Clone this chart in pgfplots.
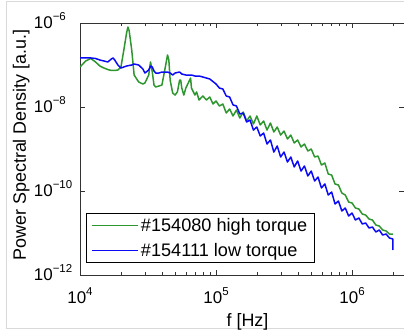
\documentclass[border=0pt]{standalone}
\usepackage{fontspec}
\setmainfont{Liberation Sans}
\usepackage{pgfplots}
\usepackage{pgfplotstable}
\pgfplotsset{compat=1.18}
\definecolor{mgreen}{RGB}{46,150,46}
\definecolor{mblue}{RGB}{10,10,245}
\newcommand{\tl}[1]{10\raisebox{0.42em}{\fontsize{11.5}{12}\selectfont #1}}
\newcommand{\tly}[1]{10\rlap{\raisebox{0.42em}{\fontsize{11.5}{12}\selectfont #1}}}

\pgfplotstableread{
f y
1e4 8.96e-8
1.1e4 1.245e-7
1.2e4 1.43e-7
1.3e4 1.18e-7
1.4e4 9.47e-8
1.5e4 8.48e-8
1.6e4 7.8e-8
1.7e4 7.4e-8
1.8e4 7.4e-8
1.9e4 7.6e-8
2.0e4 8.96e-8
2.1e4 2.28e-7
2.2e4 5.78e-7
2.25e4 8.03e-7
2.3e4 6.45e-7
2.4e4 2.28e-7
2.5e4 5.78e-8
2.7e4 3.94e-8
2.9e4 3.53e-8
3.0e4 3.73e-8
3.2e4 5.78e-8
3.3e4 1.18e-7
3.4e4 6.81e-8
3.5e4 3.34e-8
3.6e4 2.99e-8
3.8e4 3.16e-8
4.0e4 3.34e-8
4.2e4 7.60e-8
4.4e4 1.73e-7
4.5e4 1.315e-7
4.6e4 4.39e-8
4.8e4 2.15e-8
5.0e4 1.93e-8
5.2e4 2.28e-8
5.4e4 4.39e-8
5.5e4 4.39e-8
5.6e4 2.83e-8
5.8e4 1.93e-8
6.0e4 2.83e-8
6.3e4 3.94e-8
6.5e4 4.90e-8
6.6e4 2.83e-8
7.0e4 1.93e-8
7.2e4 2.28e-8
7.5e4 1.47e-8
8.0e4 1.83e-8
8.5e4 1.47e-8
9.0e4 1.73e-8
9.5e4 1.18e-8
1.0e5 1.39e-8
1.059e5 1.056e-8
1.122e5 1.179e-8
1.189e5 7.20e-9
1.259e5 8.96e-9
1.334e5 6.11e-9
1.413e5 8.48e-9
1.496e5 5.47e-9
1.585e5 7.60e-9
1.679e5 4.64e-9
1.778e5 6.11e-9
1.884e5 3.94e-9
1.995e5 6.11e-9
2.113e5 3.73e-9
2.239e5 4.64e-9
2.371e5 2.83e-9
2.512e5 4.16e-9
2.661e5 2.54e-9
2.818e5 3.34e-9
2.985e5 2.15e-9
3.162e5 2.68e-9
3.350e5 1.73e-9
3.548e5 2.15e-9
3.758e5 1.39e-9
3.981e5 1.64e-9
4.217e5 1.12e-9
4.467e5 1.315e-9
4.732e5 8.96e-10
5.012e5 1.0e-9
5.309e5 6.45e-10
5.623e5 6.81e-10
5.957e5 4.16e-10
6.310e5 4.64e-10
6.683e5 2.54e-10
7.079e5 2.40e-10
7.499e5 1.47e-10
7.943e5 1.39e-10
8.414e5 8.96e-11
8.913e5 8.03e-11
9.441e5 5.47e-11
1.0e6 5.18e-11
1.059e6 3.94e-11
1.122e6 3.73e-11
1.189e6 2.83e-11
1.259e6 2.68e-11
1.334e6 2.15e-11
1.413e6 2.04e-11
1.496e6 1.55e-11
1.585e6 1.47e-11
1.679e6 1.18e-11
1.778e6 1.12e-11
1.884e6 9.47e-12
1.995e6 9.47e-12
}\greendata

\pgfplotstableread{
f y
1e4 1.47e-7
1.1e4 1.47e-7
1.2e4 1.47e-7
1.3e4 1.43e-7
1.4e4 1.315e-7
1.5e4 1.245e-7
1.6e4 1.18e-7
1.7e4 1.39e-7
1.75e4 1.47e-7
1.8e4 1.315e-7
1.9e4 1.0e-7
2.0e4 8.48e-8
2.1e4 8.96e-8
2.2e4 9.47e-8
2.4e4 1.0e-7
2.5e4 1.056e-7
2.7e4 1.0e-7
2.9e4 8.03e-8
3.0e4 6.45e-8
3.2e4 7.60e-8
3.3e4 9.47e-8
3.4e4 8.96e-8
3.5e4 7.20e-8
3.6e4 6.45e-8
3.8e4 6.45e-8
4.0e4 6.81e-8
4.4e4 6.81e-8
4.6e4 6.45e-8
4.8e4 5.78e-8
5.0e4 6.45e-8
5.4e4 6.81e-8
5.6e4 6.11e-8
6.0e4 5.78e-8
6.6e4 5.78e-8
7.0e4 5.47e-8
7.5e4 5.47e-8
8.0e4 5.18e-8
9.0e4 4.64e-8
1.0e5 3.53e-8
1.059e5 2.83e-8
1.122e5 2.68e-8
1.189e5 1.83e-8
1.259e5 1.73e-8
1.334e5 1.12e-8
1.413e5 1.06e-8
1.496e5 6.81e-9
1.585e5 7.20e-9
1.679e5 4.39e-9
1.778e5 4.90e-9
1.884e5 2.83e-9
1.995e5 3.34e-9
2.113e5 2.04e-9
2.239e5 2.40e-9
2.371e5 1.315e-9
2.512e5 1.64e-9
2.661e5 8.48e-10
2.818e5 1.18e-9
2.985e5 6.45e-10
3.162e5 8.48e-10
3.350e5 4.90e-10
3.548e5 6.45e-10
3.758e5 3.73e-10
3.981e5 5.18e-10
4.217e5 2.99e-10
4.467e5 3.94e-10
4.732e5 2.28e-10
5.012e5 2.99e-10
5.309e5 1.73e-10
5.623e5 2.15e-10
5.957e5 1.18e-10
6.310e5 1.47e-10
6.683e5 8.03e-11
7.079e5 9.47e-11
7.499e5 4.90e-11
7.943e5 5.78e-11
8.414e5 3.34e-11
8.913e5 3.94e-11
9.441e5 2.54e-11
1.0e6 2.99e-11
1.059e6 2.04e-11
1.122e6 2.28e-11
1.189e6 1.64e-11
1.259e6 1.73e-11
1.334e6 1.315e-11
1.413e6 1.39e-11
1.496e6 1.056e-11
1.585e6 1.18e-11
1.679e6 8.96e-12
1.778e6 9.47e-12
1.884e6 7.60e-12
1.995e6 7.20e-12
1.996e6 3.94e-12
}\bluedata

\begin{document}
\begin{tikzpicture}
\useasboundingbox (-80bp,-57bp) rectangle (324bp,275bp);
\draw[black!15, line width=1bp] (330bp,273bp) -- (-73bp,273bp) -- (-73bp,-53bp) -- (330bp,-53bp);
\begin{axis}[
  scale only axis,
  width=324bp, height=252bp,
  xmode=log, ymode=log,
  xmin=1e4, xmax=2.41e6,
  ymin=1e-12, ymax=1e-6,
  xtick={1e4,1e5,1e6},
  xticklabels={\tl{4},\tl{5},\tl{6}},
  minor xtick={2e4,3e4,4e4,5e4,6e4,7e4,8e4,9e4,2e5,3e5,4e5,5e5,6e5,7e5,8e5,9e5,2e6},
  ytick={1e-12,1e-10,1e-8,1e-6},
  yticklabels={\tly{−12},\tly{−10},\tly{−8},\tly{−6}},
  minor ytick={},
  tick align=inside,
  major tick length=5bp,
  minor tick length=3bp,
  axis line style={black!80, line width=0.8bp},
  every tick/.style={black!80, line width=0.6bp},
  ticklabel style={font=\fontsize{17}{19}\selectfont},
  xticklabel style={anchor=base, inner sep=0pt, yshift=-28bp},
  yticklabel style={anchor=base east, inner sep=0pt, xshift=-27bp, yshift=-5bp},
  xlabel={f [Hz]},
  ylabel={Power Spectral Density [a.u.]},
  label style={font=\fontsize{18}{20}\selectfont},
  xlabel style={at={(axis description cs:0.517,-0.2063)}, anchor=base, inner sep=0pt},
  ylabel style={at={(axis description cs:-0.1667,0.516)}, anchor=base, inner sep=0pt},
  legend style={at={(axis description cs:0.0185,0.0476)}, anchor=south west,
    draw=black, line width=0.8bp, fill=white,
    font=\fontsize{18.2}{20}\selectfont,
    inner xsep=5bp, inner ysep=3bp, row sep=6bp},
  legend cell align=left,
  legend image code/.code={\draw[#1, line width=1.6bp] (2bp,0bp) -- (48bp,0bp);},
]
\addplot[draw=mgreen, line width=1.5bp, line join=round] table[x=f,y=y] {\greendata};
\addlegendentry{\#154080 high torque}
\addplot[draw=mblue, line width=1.5bp, line join=round] table[x=f,y=y] {\bluedata};
\addlegendentry{\#154111 low torque}
\end{axis}
\end{tikzpicture}
\end{document}
